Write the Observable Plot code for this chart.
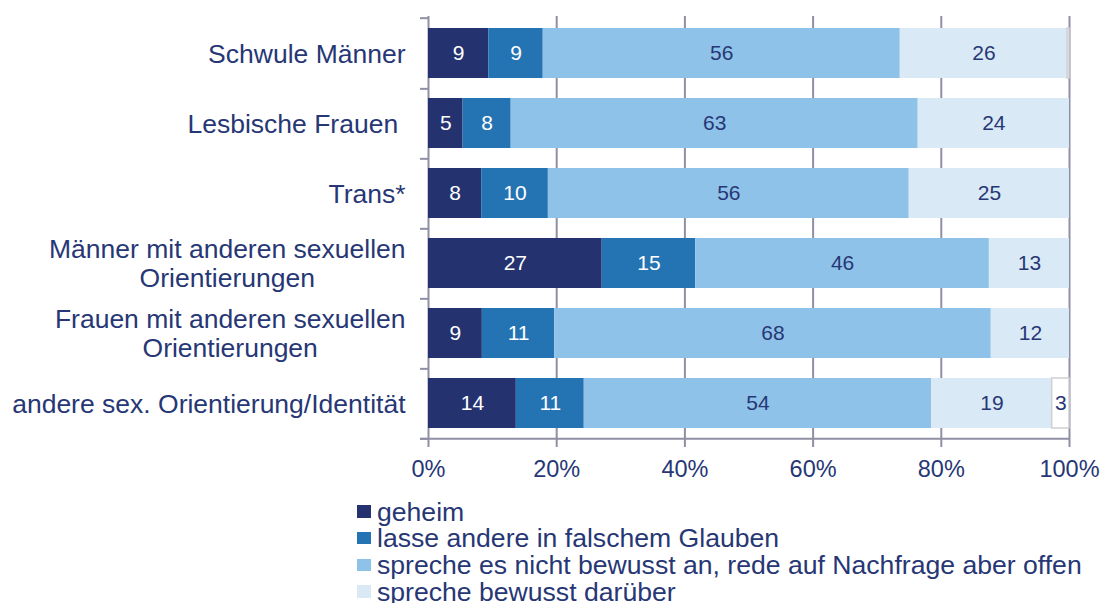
<!DOCTYPE html>
<html><head><meta charset="utf-8">
<script src="https://cdn.jsdelivr.net/npm/d3@7"></script>
<script src="https://cdn.jsdelivr.net/npm/@observablehq/plot@0.6"></script>
<style>
body{margin:0;background:#fff;overflow:hidden;font-family:"Liberation Sans",Arial,sans-serif;}
#legend{margin-left:357px;padding-top:8.5px;font-size:26.6px;line-height:26.7px;color:#273775;}
.item{white-space:nowrap;}
.sw{display:inline-block;width:13.5px;height:12.5px;margin-right:6.5px;vertical-align:middle;position:relative;top:-2px;}
</style></head><body>
<div id="chart"></div><div id="legend"></div>
<script>
const categories = ["Schwule Männer","Lesbische Frauen","Trans*","Männer mit anderen sexuellen Orientierungen","Frauen mit anderen sexuellen Orientierungen","andere sex. Orientierung/Identität"];
const categoryLabels = ["Schwule Männer","Lesbische Frauen\u00a0","Trans*","Männer mit anderen sexuellen\nOrientierungen","Frauen mit anderen sexuellen\nOrientierungen","andere sex. Orientierung/Identität"];
const series = ["geheim","lasse andere in falschem Glauben","spreche es nicht bewusst an, rede auf Nachfrage aber offen","spreche bewusst darüber","keine Angabe"];
const legendSeries = series.slice(0, 4);
const colors = ["#24336f","#2474b4","#8ec2e8","#d9eaf6","#ffffff"];

const geheim       = [9.4, 5.4, 8.3, 27.1, 8.4, 13.7];
const glauben      = [8.5, 7.5, 10.4, 14.6, 11.3, 10.6];
const nichtBewusst = [55.7, 63.5, 56.3, 45.8, 68.1, 54.2];
const bewusst      = [26.1, 23.6, 25.0, 12.5, 12.2, 18.8];
const sonstige     = [0.3, 0, 0, 0, 0, 2.7];

const geheimLabels       = ["9","5","8","27","9","14"];
const glaubenLabels      = ["9","8","10","15","11","11"];
const nichtBewusstLabels = ["56","63","56","46","68","54"];
const bewusstLabels      = ["26","24","25","13","12","19"];
const sonstigeLabels     = [null,null,null,null,null,"3"];

const xTicks = [0, 20, 40, 60, 80, 100];

const values = [geheim, glauben, nichtBewusst, bewusst, sonstige];
const labels = [geheimLabels, glaubenLabels, nichtBewusstLabels, bewusstLabels, sonstigeLabels];
const rows = [];
series.forEach((s, si) => categories.forEach((c, ci) => rows.push({category: c, series: s, si, value: values[si][ci], label: labels[si][ci]})));

const navy = "#273775";
const grid = "#8f8fa5";
const W = 1102, H = 490, MT = 16, MB = 50, ML = 428, MR = 33;
const half = (H - MT - MB) / categories.length / 2;

const stackOpts = {x: "value", y: "category", z: "series"};

const chart = Plot.plot({
  width: W, height: H,
  marginLeft: ML, marginRight: MR, marginTop: MT, marginBottom: MB,
  style: {fontFamily: "'Liberation Sans', Arial, sans-serif", color: navy, background: "#fff"},
  x: {domain: [0, 100], axis: null, label: null},
  y: {domain: categories, paddingInner: 0.283, paddingOuter: 0.1415, axis: null, label: null},
  color: {domain: series, range: colors},
  opacity: {domain: [0, 1], range: [0, 1]},
  marks: [
    Plot.gridX(xTicks.slice(1), {stroke: grid, strokeOpacity: 1, strokeWidth: 2}),
    Plot.ruleX([0], {stroke: grid, strokeWidth: 2}),
    Plot.ruleY(categories, {y: d => d, x1: 0, x2: 0, dy: half, insetLeft: -8, stroke: grid, strokeWidth: 2}),
    Plot.ruleY([categories[0]], {y: d => d, x1: 0, x2: 0, dy: -half, insetLeft: -8, stroke: grid, strokeWidth: 2}),
    Plot.ruleY([categories[categories.length - 1]], {y: d => d, x1: 0, x2: 100, dy: half, insetLeft: -8, stroke: grid, strokeWidth: 2}),
    Plot.axisX({ticks: xTicks, tickFormat: d => d + "%", tickSize: 7, tickPadding: 13, fontSize: 23.5, stroke: grid, strokeWidth: 2, fill: navy, label: null}),
    Plot.axisY({tickSize: 0, tickPadding: 23, fontSize: 26.5, lineHeight: 1.1, fill: navy, label: null, tickFormat: d => categoryLabels[categories.indexOf(d)]}),
    Plot.barX(rows, Plot.stackX({...stackOpts, fill: "series", stroke: "#cfcfd4", strokeWidth: 1.5,
      strokeOpacity: d => (d.si === 4 && d.value > 0) ? 1 : 0})),
    Plot.text(rows, Plot.stackX({...stackOpts, text: "label", fontSize: 21, fill: "#ffffff",
      fillOpacity: d => d.si < 2 ? 1 : 0})),
    Plot.text(rows, Plot.stackX({...stackOpts, text: "label", fontSize: 21, fill: navy,
      fillOpacity: d => d.si >= 2 ? 1 : 0}))
  ]
});
document.getElementById("chart").append(chart);

// center multi-line category labels on themselves (right-aligned block)
chart.querySelectorAll('g[aria-label="y-axis tick label"] text').forEach(t => {
  const spans = t.querySelectorAll("tspan");
  if (spans.length > 1) {
    let w = 0;
    spans.forEach(s => { w = Math.max(w, s.getComputedTextLength()); });
    t.setAttribute("text-anchor", "middle");
    spans.forEach(s => s.setAttribute("x", -w / 2));
  }
});

const legend = document.getElementById("legend");
legendSeries.forEach((s, i) => {
  const item = document.createElement("div");
  item.className = "item";
  const sw = document.createElement("span");
  sw.className = "sw";
  sw.style.background = colors[i];
  item.append(sw, document.createTextNode(s));
  legend.append(item);
});
</script></body></html>
